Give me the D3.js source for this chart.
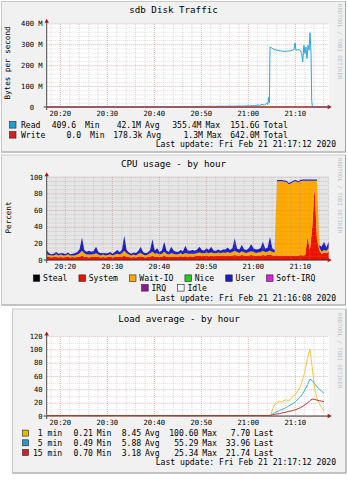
<!DOCTYPE html>
<html>
<head>
<meta charset="utf-8">
<script src="https://cdn.jsdelivr.net/npm/d3@7"></script>
<style>
  html, body { margin: 0; padding: 0; background: #ffffff; }
  svg { display: block; }
</style>
</head>
<body>
<svg id="chart" width="348" height="480"></svg>
<script>
// ---------------- data ----------------
const timeLabels = ["20:20", "20:30", "20:40", "20:50", "21:00", "21:10"];

// sdb disk traffic, MB/s
const diskTimes = ["20:17:12","20:18:00","20:19:00","20:20:00","20:21:00","20:22:00","20:23:00","20:24:00","20:25:00","20:26:00",
  "20:27:00","20:28:00","20:29:00","20:30:00","20:31:00","20:32:00","20:33:00","20:34:00","20:35:00","20:36:00",
  "20:37:00","20:38:00","20:39:00","20:40:00","20:41:00","20:42:00","20:43:00","20:44:00","20:45:00","20:46:00",
  "20:47:00","20:48:00","20:49:00","20:50:00","20:51:00","20:52:00","20:53:00","20:54:00","20:55:00","20:56:00",
  "20:57:00","20:58:00","20:59:00","21:00:00","21:00:30","21:01:00","21:01:30","21:02:00","21:02:30","21:03:00",
  "21:03:30","21:04:00","21:04:15","21:04:25","21:04:35","21:04:43","21:05:00","21:05:34","21:06:15","21:06:59",
  "21:07:40","21:08:23","21:09:00","21:09:28","21:09:49","21:10:02","21:10:14","21:10:35","21:10:53","21:11:10",
  "21:11:27","21:11:40","21:11:56","21:12:09","21:12:22","21:12:35","21:12:48","21:13:01","21:13:13","21:13:26",
  "21:13:35","21:13:43","21:14:30","21:15:30","21:16:30","21:17:12"];
const diskRead = [0.5,0.6,0.4,0.7,0.5,0.6,0.4,0.8,0.5,0.6,
  0.4,0.7,0.5,0.9,0.5,0.6,0.4,0.7,0.6,0.5,
  0.8,0.6,0.5,0.9,0.7,1.0,0.8,1.2,1.6,2.1,
  1.8,2.6,2.2,3.1,2.7,3.4,2.9,3.8,3.2,4.4,
  3.6,5.0,4.1,5.8,4.6,7.4,5.5,9.6,6.8,12.4,
  8.9,17.5,12.0,46.0,21.0,287.0,283.0,274.6,271.0,268.0,
  266.0,266.7,268.5,271.4,274.6,306.0,271.4,273.0,274.6,270.0,
  255.6,215.9,295.0,255.6,287.0,231.7,295.0,271.4,355.4,262.0,
  33.0,0.3,0.2,0.3,0.2,0.3];
const diskWrite = [0.0,0.1,0.0,0.1,0.0,0.1,0.0,0.1,0.0,0.1,
  0.0,0.1,0.0,0.1,0.0,0.1,0.0,0.1,0.0,0.1,
  0.0,0.1,0.0,0.1,0.0,0.1,0.0,0.1,0.0,0.1,
  0.0,0.1,0.0,0.1,0.0,0.1,0.0,0.1,0.0,0.1,
  0.0,0.1,0.0,0.1,0.0,0.1,0.0,0.1,0.0,0.1,
  0.0,0.1,0.0,0.2,0.1,0.4,0.6,0.5,0.4,0.6,
  0.5,0.4,0.7,0.5,0.6,1.3,0.5,0.4,0.6,0.5,
  0.7,0.4,0.9,0.6,0.8,0.5,1.1,0.6,1.2,0.5,
  0.2,0.1,0.0,0.1,0.0,0.0];

// CPU usage (%), one sample every 30 s starting at 20:16:08
const cpuStart = "20:16:08";
const cpuEnd = "21:16:08";
const cpuSystem = [4,3.5,3,3.5,4,3,3.5,3,3.5,4,
  3,3.5,3,3.5,4,5,4,3.5,3,3.5,
  3.5,4,3.5,3,3.5,3,3.5,4,3,3.5,
  4,3.5,4,5,4,3.5,3,3.5,3,4,
  4.5,3.5,3,3.5,4,5,4,4,3.5,4,
  5,4,3.5,4,4,3.5,4,4.5,4,4.5,
  4,4.5,4,4.5,5,5,4.5,5,5,4.5,
  5,4.5,5,5.5,5,5.5,5,5.5,5,5.5,
  6,5.5,5,6,5.5,5,5.5,6,5.5,5,
  5.5,5.5,6,5.5,6,6.5,5.5,5.5,5.5,5,
  5.5,5,5.5,5,5.5,5,5.5,5,6,5.5,
  6,28,12,40,88,25,12,7,9,8,10];
const cpuWaitIO = [3,2.5,2.5,2,3,2.5,3,2.5,2,3,
  2.5,2,2.5,3,4,6,4,3,3.5,3,
  3.5,4,3,2.5,3,2.5,2.5,3,2.5,3,
  3.5,3,4,6,4,3,2.5,3,2.5,3.5,
  4,3,2.5,3,4,5,3.5,4,3,3.5,
  5,3.5,3,4,3.5,3,3,3.5,3,4,
  3.5,3,3.5,3,3.5,4,3.5,3,4,3.5,
  4,3.5,3,3.5,3,3.5,3.5,4,3.5,4,
  5,4,3.5,4.5,3.5,3.5,4,4.5,4,3.5,
  3.5,4,5,4,4,5,4,3.5,89,89.5,
  89,89,88,86,86.5,89,89,88,88.5,89.5,
  89,67,83,55,7,70,3,3,3,3,4];
const cpuUser = [5,2,1.5,2,2.5,2,1.5,2.5,1.5,2,
  1.5,2,2.5,3,5,16,4,3.5,4.5,3.5,
  4,8,3,2.5,2,2.5,2,2.5,2,3,
  4.5,3,4,18,4,2.5,2,2.5,3,3.5,
  7.5,3,2.5,2.5,4,15,3.5,6,3,4,
  12,3.5,3.5,8,4,3.5,3,4,3.5,8.5,
  4,3.5,4.5,3.5,4,7,4,3.5,5,4,
  7,3.5,3,3.5,3,3.5,4,5.5,3.5,4.5,
  15,4,4,7.5,4,3.5,4.5,8.5,4.5,4,
  4,5,11,4,5,16.5,4.5,3,1.5,1.5,
  1.5,1.5,1.5,1.5,1.5,1.5,1.5,1.5,1.5,1.5,
  1.5,1.5,1.5,1.5,1.5,1.5,3,6,10,4,8];

// Load average
const loadTimes = ["20:17:12","20:22:00","20:27:00","20:32:00","20:37:00","20:42:00","20:47:00","20:52:00","20:57:00","21:02:00",
  "21:04:30","21:04:52","21:05:12","21:05:42","21:06:12","21:06:42","21:07:12","21:07:42","21:08:12","21:08:42",
  "21:09:12","21:09:42","21:10:12","21:10:42","21:11:12","21:11:42","21:12:12","21:12:42","21:13:12","21:13:42",
  "21:14:12","21:14:42","21:15:12","21:15:42","21:16:12"];
const load1 = [0.45,0.3,0.6,0.21,0.5,0.35,0.8,0.4,0.6,0.5,
  0.7,0.9,9,17,19.5,22,21,23.5,24,22.5,
  26,31,33,39,44,56,68,87,100.6,72,
  42,27,18.5,12.5,7.7];
const load5 = [0.6,0.55,0.49,0.6,0.52,0.58,0.7,0.6,0.65,0.62,
  0.8,0.9,2.5,5,6.5,8,9.5,11,13,15,
  17,19,22,25.5,29,34,40,47,55.29,53,
  48.5,44,40.5,37,33.96];
const load15 = [0.75,0.72,0.7,0.74,0.71,0.73,0.76,0.74,0.75,0.76,
  0.8,0.85,1.5,2.5,3,3.5,4.5,5,6,7,
  7.5,8.5,9.5,11,12.5,14.5,17,19.5,23,25.34,
  24.8,23.8,23,22.3,21.74];

const diskTicks = [0, 100, 200, 300, 400];
const cpuTicks = [0, 20, 40, 60, 80, 100];
const loadTicks = [0, 20, 40, 60, 80, 100, 120];

// ---------------- drawing helpers ----------------
const svg = d3.select("#chart");
const MONO = "'DejaVu Sans Mono', monospace";
const parseT = d3.timeParse("%H:%M:%S");
const fmtHM = d3.timeFormat("%H:%M");
const CW = 0.602 * 8.1;          // legend glyph advance
const PLOT_L = 46.7, PLOT_R = 328.7;

function frame(x, y, w, h) {
  svg.append("rect").attr("x", x).attr("y", y).attr("width", w).attr("height", h)
    .attr("fill", "#f1f1f1").attr("stroke", "#c9c9c9");
  svg.append("path").attr("d", `M${x + w},${y}V${y + h}H${x}`)
    .attr("fill", "none").attr("stroke", "#a4a4a4");
}

function text(x, y, s, opts = {}) {
  return svg.append("text").attr("x", x).attr("y", y).text(s)
    .attr("font-family", MONO).attr("font-size", opts.size || 8.1)
    .attr("text-anchor", opts.anchor || "start").attr("fill", opts.fill || "#000");
}

function box(x, y, color, size = 6.5) {
  svg.append("rect").attr("x", x).attr("y", y).attr("width", size).attr("height", size)
    .attr("fill", color).attr("stroke", "#202020").attr("stroke-width", 0.6);
}

function watermark(yTop) {
  svg.append("text").attr("transform", `translate(338,${yTop}) rotate(90)`)
    .text("RRDTOOL / TOBI OETIKER").attr("font-family", MONO).attr("font-size", 5.7)
    .attr("fill", "#bdbdbd");
}

// scales, canvas and layer groups for one graph
function plot(cfg) {
  const x = d3.scaleTime().domain([parseT(cfg.t0), parseT(cfg.t1)]).range([PLOT_L, PLOT_R]);
  const y = d3.scaleLinear().domain([0, cfg.yMax]).range([cfg.bottom, cfg.top]);
  const g = svg.append("g");
  g.append("rect").attr("x", PLOT_L).attr("y", cfg.top).attr("width", PLOT_R - PLOT_L)
    .attr("height", cfg.bottom - cfg.top).attr("fill", cfg.canvas);
  const layers = g.append("g");
  const gridG = g.append("g");
  const axisG = g.append("g");
  const lineG = g.append("g");
  return { x, y, layers, gridG, axisG, lineG, cfg };
}

function grid(p) {
  const { x, y, gridG, cfg } = p;
  const h = cfg.bottom - cfg.top, w = PLOT_R - PLOT_L;
  const minorC = "rgba(150,150,150,0.32)", majorC = "rgba(225,120,120,0.30)";
  const style = (sel, c) => sel.call(a => a.select(".domain").remove())
    .selectAll("line").attr("stroke", c).attr("stroke-dasharray", "1,1");

  gridG.append("g").attr("transform", `translate(0,${cfg.bottom})`)
    .call(d3.axisBottom(x).ticks(d3.timeMinute.every(2)).tickSize(-h).tickFormat(""))
    .call(s => style(s, minorC));
  gridG.append("g").attr("transform", `translate(${PLOT_L},0)`)
    .call(d3.axisLeft(y).tickValues(d3.range(0, cfg.yMax + 1e-9, cfg.minorStep)).tickSize(-w).tickFormat(""))
    .call(s => style(s, minorC));
  gridG.append("g").attr("transform", `translate(0,${cfg.bottom})`)
    .call(d3.axisBottom(x).tickValues(timeLabels.map(t => parseT(t + ":00"))).tickSize(-h).tickFormat(""))
    .call(s => style(s, majorC));
  gridG.append("g").attr("transform", `translate(${PLOT_L},0)`)
    .call(d3.axisLeft(y).tickValues(cfg.ticks).tickSize(-w).tickFormat(""))
    .call(s => style(s, majorC));
}

function axes(p) {
  const { x, y, axisG, cfg } = p;
  // time labels
  axisG.append("g").attr("transform", `translate(0,${cfg.bottom})`)
    .call(d3.axisBottom(x).tickValues(timeLabels.map(t => parseT(t + ":00")))
      .tickSize(0).tickPadding(3.6).tickFormat(fmtHM))
    .call(a => a.select(".domain").remove())
    .selectAll("text").attr("font-family", MONO).attr("font-size", 7.2).attr("fill", "#000");
  // value labels
  axisG.append("g").attr("transform", `translate(${PLOT_L},0)`)
    .call(d3.axisLeft(y).tickValues(cfg.ticks).tickSize(0).tickPadding(4).tickFormat(cfg.fmt))
    .call(a => a.select(".domain").remove())
    .selectAll("text").attr("font-family", MONO).attr("font-size", 7.2).attr("fill", "#000")
    .attr("dx", d => (cfg.zeroShift && d === 0) ? -cfg.zeroShift : 0);
  // axis lines with arrows
  axisG.append("line").attr("x1", PLOT_L - 3).attr("x2", PLOT_R + 1)
    .attr("y1", cfg.bottom).attr("y2", cfg.bottom).attr("stroke", "#4a3030");
  axisG.append("line").attr("x1", PLOT_L).attr("x2", PLOT_L)
    .attr("y1", cfg.bottom + 3).attr("y2", cfg.top - 2).attr("stroke", "#4a4a4a");
  axisG.append("path").attr("d", `M${PLOT_R + 3},${cfg.bottom}l-4,-2.2v4.4z`).attr("fill", "#a81818");
  axisG.append("path").attr("d", `M${PLOT_L},${cfg.top - 4.5}l-2.2,4h4.4z`).attr("fill", "#a81818");
}

function line(p, times, values, color) {
  const pts = times.map((t, i) => [p.x(parseT(t)), p.y(values[i])]);
  p.lineG.append("path").attr("d", d3.line()(pts))
    .attr("fill", "none").attr("stroke", color).attr("stroke-width", 1);
}

// ---------------- panel 1: sdb Disk Traffic ----------------
frame(1.5, 1.5, 344, 150.5);
text(173.5, 12.6, "sdb Disk Traffic", { anchor: "middle", size: 9.2 });
svg.append("text").attr("transform", "translate(10,63) rotate(-90)").text("Bytes per second")
  .attr("font-family", MONO).attr("font-size", 7.6).attr("text-anchor", "middle");
watermark(4);

const p1 = plot({ t0: "20:17:12", t1: "21:17:12", top: 23.3, bottom: 107, yMax: 400,
  minorStep: 20, ticks: diskTicks, canvas: "#ffffff",
  fmt: d => d === 0 ? "0" : d + " M", zeroShift: 2 * 0.602 * 7.2 });
grid(p1);
axes(p1);
line(p1, diskTimes, diskRead, "#29a6dd");
line(p1, diskTimes, diskWrite, "#cc2020");

const diskLegend = [
  { name: "Read",  color: "#1f9fd8", base: 128, units: [85, 145, 205.5, 263.5],
    vals: ["409.6 ", "42.1M", "355.4M", "151.6G"] },
  { name: "Write", color: "#d42020", base: 138, units: [90, 146.5, 207, 263.5],
    vals: ["0.0 ", "178.3k", "1.3M", "642.0M"] }
];
const diskStats = ["Min", "Avg", "Max", "Total"];
diskLegend.forEach(r => {
  box(9.5, r.base - 6.4, r.color);
  text(21, r.base, r.name);
  r.vals.forEach((v, k) => {
    const pad = v.length - v.trimEnd().length;
    text(r.units[k] - 4 - pad * CW, r.base, v.trimEnd(), { anchor: "end" });
    text(r.units[k], r.base, diskStats[k]);
  });
});
text(336, 147.4, "Last update: Fri Feb 21 21:17:12 2020", { anchor: "end" });

// ---------------- panel 2: CPU usage ----------------
frame(1.5, 155, 344, 150);
text(173.5, 167.3, "CPU usage - by hour", { anchor: "middle", size: 9.2 });
svg.append("text").attr("transform", "translate(11,217.5) rotate(-90)").text("Percent")
  .attr("font-family", MONO).attr("font-size", 7.6).attr("text-anchor", "middle");
watermark(158);

const p2 = plot({ t0: cpuStart, t1: cpuEnd, top: 176.7, bottom: 260, yMax: 100,
  minorStep: 5, ticks: cpuTicks, canvas: "#e6e6e6", fmt: d => String(d) });

const t0ms = parseT(cpuStart).getTime();
const cpuRows = cpuSystem.map((s, i) => ({
  time: new Date(t0ms + i * 30000), system: s, waitio: cpuWaitIO[i], user: cpuUser[i]
}));
const cpuKeys = ["system", "waitio", "user"];
const cpuColors = { system: "#ee1100", waitio: "#ffaa00", user: "#1c1cc4" };
const stacked = d3.stack().keys(cpuKeys)(cpuRows);
const area = d3.area().x(d => p2.x(d.data.time)).y0(d => p2.y(d[0])).y1(d => p2.y(d[1]));
p2.layers.selectAll("path").data(stacked).join("path")
  .attr("d", area).attr("fill", d => cpuColors[d.key]);
grid(p2);
axes(p2);

const cpuLegendRows = [
  { base: 281.3, items: [
    { name: "Steal", color: "#000000" }, { name: "System", color: "#ee1100" },
    { name: "Wait-IO", color: "#ffaa00" }, { name: "Nice", color: "#22cc22" },
    { name: "User", color: "#1c1cc4" }, { name: "Soft-IRQ", color: "#e020e0" } ] },
  { base: 291, items: [
    { name: "IRQ", color: "#901890" }, { name: "Idle", color: "#f8f8f8" } ] }
];
cpuLegendRows.forEach(r => {
  const gap = 11.5;
  const widths = r.items.map(it => 9.8 + it.name.length * CW);
  let x = 174.3 - (d3.sum(widths) + gap * (r.items.length - 1)) / 2;
  r.items.forEach((it, k) => {
    box(x, r.base - 6.4, it.color);
    text(x + 9.8, r.base, it.name);
    x += widths[k] + gap;
  });
});
text(336, 300.8, "Last update: Fri Feb 21 21:16:08 2020", { anchor: "end" });

// ---------------- panel 3: Load average ----------------
frame(12.5, 309, 333.5, 164);
text(179, 322.3, "Load average - by hour", { anchor: "middle", size: 9.2 });
watermark(313);

const p3 = plot({ t0: "20:17:12", t1: "21:17:12", top: 336, bottom: 416, yMax: 120,
  minorStep: 10, ticks: loadTicks, canvas: "#ffffff", fmt: d => String(d) });
grid(p3);
axes(p3);
line(p3, loadTimes, load1, "#f0c840");
line(p3, loadTimes, load5, "#3aaed8");
line(p3, loadTimes, load15, "#c03030");

const loadLegend = [
  { name: "1 min",  color: "#eab800", base: 436.3, vals: ["0.21", "8.45", "100.60", "7.70"] },
  { name: "5 min",  color: "#1e9fd8", base: 446,   vals: ["0.49", "5.88", "55.29", "33.96"] },
  { name: "15 min", color: "#d42020", base: 455.7, vals: ["0.70", "3.18", "25.34", "21.74"] }
];
const loadStats = ["Min", "Avg", "Max", "Last"];
const loadUnitX = [96.7, 145, 202.3, 254];
loadLegend.forEach(r => {
  box(22.5, r.base - 6.2, r.color, 6);
  text(62.2, r.base, r.name, { anchor: "end" });
  r.vals.forEach((v, k) => {
    text(loadUnitX[k] - 3.8, r.base, v, { anchor: "end" });
    text(loadUnitX[k], r.base, loadStats[k]);
  });
});
text(336, 465.4, "Last update: Fri Feb 21 21:17:12 2020", { anchor: "end" });
</script>
</body>
</html>
